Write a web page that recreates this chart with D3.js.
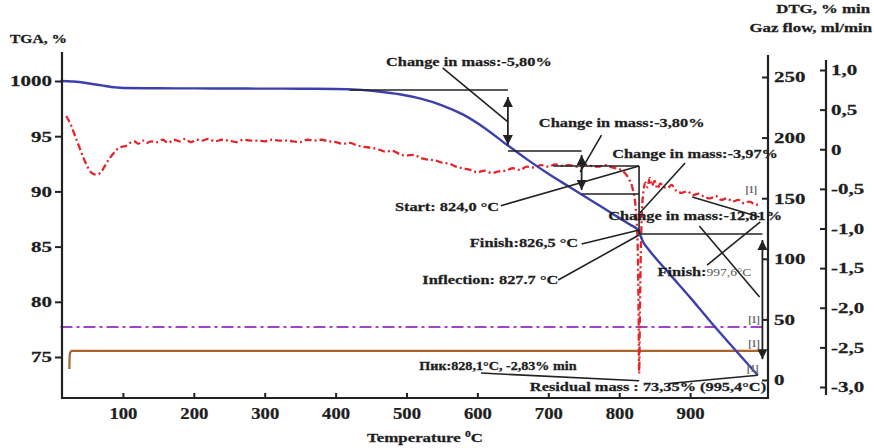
<!DOCTYPE html>
<html>
<head>
<meta charset="utf-8">
<script src="https://cdn.jsdelivr.net/npm/d3@7"></script>
<style>
  body { margin: 0; background: #fff; }
  svg text { font-family: "Liberation Serif", "Times New Roman", serif; font-weight: bold; fill: #1e1e1e; stroke: #1e1e1e; stroke-width: 0.25px; }
</style>
</head>
<body>
<svg width="874" height="448"></svg>
<script>
// ticks
var tempTicks = [100, 200, 300, 400, 500, 600, 700, 800, 900];
var tgaTicks = [75, 80, 85, 90, 95, 100];
var tgaTickLabels = ["75", "80", "85", "90", "95", "1000"];
var gasTicks = [0, 50, 100, 150, 200, 250];
var dtgTicks = [1, 0.5, 0, -0.5, -1, -1.5, -2, -2.5, -3];
var dtgTickLabels = ["1,0", "0,5", "0", "-0,5", "-1,0", "-1,5", "-2,0", "-2,5", "-3,0"];

// TGA, %
var tgaTemp = [12, 30, 50, 70, 90, 100, 150, 200, 250, 300, 350, 400, 430, 460, 490, 520, 550, 580, 610, 640, 670, 700, 730, 760, 790, 815, 826, 828, 830, 834, 842, 870, 900, 930, 960, 995.4];
var tgaMass = [100, 99.95, 99.8, 99.6, 99.42, 99.37, 99.34, 99.33, 99.32, 99.31, 99.3, 99.28, 99.22, 99.05, 98.8, 98.4, 97.8, 96.95, 95.75, 94.3, 92.9, 91.6, 90.4, 89.2, 88.0, 87.0, 86.55, 86.4, 86.0, 85.4, 84.7, 82.6, 80.4, 78.1, 75.9, 73.35];

// DTG, % min
var dtgTemp = [20, 26, 32, 38, 44, 50, 56, 62, 68, 74, 80, 86, 92, 98, 104, 110, 116, 122, 128, 134, 140, 148, 156, 164, 172, 180, 188, 196, 204, 212, 220, 230, 240, 250, 260, 270, 280, 290, 300, 310, 320, 330, 340, 350, 360, 370, 380, 390, 400, 410, 420, 430, 440, 450, 460, 470, 480, 490, 500, 510, 520, 530, 540, 550, 560, 570, 580, 590, 600, 610, 620, 630, 640, 650, 660, 670, 680, 690, 700, 710, 720, 730, 740, 750, 760, 770, 780, 790, 800, 808, 814, 819, 823, 826, 827.3, 828.1, 829.2, 830.5, 832, 834, 837, 840, 843, 846, 850, 854, 858, 862, 868, 874, 880, 888, 896, 904, 912, 920, 928, 936, 944, 952, 960, 968, 976, 984, 992, 998];
var dtgRate = [0.42, 0.32, 0.18, 0.04, -0.10, -0.22, -0.30, -0.32, -0.30, -0.22, -0.13, -0.06, 0.00, 0.03, 0.04, 0.08, 0.10, 0.07, 0.11, 0.08, 0.10, 0.09, 0.12, 0.08, 0.12, 0.10, 0.13, 0.09, 0.12, 0.11, 0.13, 0.10, 0.12, 0.11, 0.09, 0.12, 0.11, 0.11, 0.10, 0.12, 0.11, 0.11, 0.10, 0.09, 0.12, 0.11, 0.12, 0.10, 0.09, 0.07, 0.08, 0.05, 0.03, 0.02, 0.00, -0.03, -0.02, -0.06, -0.08, -0.07, -0.11, -0.13, -0.14, -0.17, -0.18, -0.22, -0.24, -0.26, -0.29, -0.27, -0.30, -0.28, -0.27, -0.24, -0.26, -0.22, -0.23, -0.20, -0.22, -0.19, -0.21, -0.20, -0.22, -0.19, -0.21, -0.22, -0.20, -0.23, -0.25, -0.30, -0.38, -0.50, -0.72, -1.20, -2.00, -2.83, -2.10, -1.30, -0.80, -0.55, -0.42, -0.48, -0.36, -0.46, -0.40, -0.50, -0.43, -0.47, -0.49, -0.45, -0.52, -0.55, -0.53, -0.58, -0.56, -0.60, -0.62, -0.59, -0.64, -0.62, -0.66, -0.64, -0.68, -0.66, -0.70, -0.69];

// Gaz flow, ml/min
var flowTemp = [24.5, 24.8, 25.6, 28, 1002];
var flowBrown = [9, 18, 22.5, 24, 24];
var flowTemp2 = [12, 1002];
var flowPurple = [43.7, 43.7];

// annotations in (temperature, TGA %) units
var annLines = [
  [420, 99.18, 643, 99.18], [551, 101.18, 643, 96.29], [643, 93.66, 747, 93.66],
  [775, 95.1, 745, 91.76], [707, 92.3, 828, 92.3], [747, 89.76, 828, 89.76], [828, 92.3, 828, 86.14],
  [633, 88.7, 828, 92.3], [893, 92.57, 829, 88.04], [828, 86.14, 1002, 86.14],
  [913, 86.87, 998, 80.43], [924, 83.33, 999, 87.23], [903, 89.49, 998, 87.68],
  [747, 85.24, 828, 86.5], [714, 81.97, 828, 86.05],
  [605, 73.55, 828.1, 72.85], [870, 72.6, 995.4, 73.35]
];
var annArrows = [[643, 98.55, 643, 94.2], [747, 93.3, 747, 90.13], [1002, 85.6, 1002, 74.8]];
var annTexts = [
  ["Change in mass:-5,80%", 588, 101.36, "middle"],
  ["Change in mass:-3,80%", 803.5, 95.83, "middle"],
  ["Change in mass:-3,97%", 907, 93.0, "middle"],
  ["Change in mass:-12,81%", 907, 87.4, "middle"],
  ["Start: 824,0 °C", 630.5, 88.2, "end"],
  ["Finish:826,5 °C", 742, 84.96, "end"],
  ["Inflection: 827.7 °C", 714, 81.6, "end"],
  ["Residual mass : 73,35% (995,4°C)", 674, 71.92, "start"]
];
var markTexts = [[978, 89.9], [982, 78.1], [982, 75.9], [980, 73.6]];

var svg = d3.select("svg");
var x = d3.scaleLinear().domain([0, 1000]).range([52, 761]);
var yTga = d3.scaleLinear().domain([75, 100]).range([357, 81]);
var yGas = d3.scaleLinear().domain([0, 250]).range([380, 77]);
var yDtg = d3.scaleLinear().domain([-3, 1]).range([387, 70]);
var left = 62, right = 768, bottom = 398, outer = 826;
var ink = "#222";

function stretch(g, sx) {
  g.selectAll(".tick text").each(function() {
    var t = d3.select(this);
    t.attr("x", (+t.attr("x") || 0) / sx).attr("transform", "scale(" + sx + ",1)");
  });
}
function label(s, px, py, size, anchor, sx) {
  return svg.append("text")
    .attr("transform", "translate(" + px + "," + py + ") scale(" + sx + ",1)")
    .attr("text-anchor", anchor).style("font-size", size + "px").text(s);
}

// series
svg.append("path").attr("d", d3.line()
    .x(function(d, i) { return x(flowTemp2[i]); }).y(function(d) { return yGas(d); })(flowPurple))
  .attr("fill", "none").attr("stroke", "#9d45c6").attr("stroke-width", 2).attr("stroke-dasharray", "12,4,3,4");
svg.append("path").attr("d", d3.line().curve(d3.curveMonotoneX)
    .x(function(d, i) { return x(flowTemp[i]); }).y(function(d) { return yGas(d); })(flowBrown))
  .attr("fill", "none").attr("stroke", "#a8662c").attr("stroke-width", 2.2);

svg.append("path").attr("d", d3.line().curve(d3.curveMonotoneX)
    .x(function(d, i) { return x(dtgTemp[i]); }).y(function(d) { return yDtg(d); })(dtgRate))
  .attr("fill", "none").attr("stroke", "#e3262b").attr("stroke-width", 2.3).attr("stroke-dasharray", "7,3,2,3");

svg.append("path").attr("d", d3.line().curve(d3.curveMonotoneX)
    .x(function(d, i) { return x(tgaTemp[i]); }).y(function(d) { return yTga(d); })(tgaMass))
  .attr("fill", "none").attr("stroke", "#3c40ad").attr("stroke-width", 2.4);

// annotations
svg.append("defs").append("marker").attr("id", "ah")
  .attr("viewBox", "0 0 10 10").attr("refX", 10).attr("refY", 5)
  .attr("markerWidth", 11).attr("markerHeight", 10).attr("markerUnits", "userSpaceOnUse")
  .attr("orient", "auto-start-reverse")
  .append("path").attr("d", "M0,0L10,5L0,10Z").attr("fill", ink);

svg.selectAll("line.ann").data(annLines).enter().append("line").attr("class", "ann")
  .attr("x1", function(d) { return x(d[0]); }).attr("y1", function(d) { return yTga(d[1]); })
  .attr("x2", function(d) { return x(d[2]); }).attr("y2", function(d) { return yTga(d[3]); })
  .attr("stroke", ink).attr("stroke-width", 1.6);
svg.selectAll("line.arr").data(annArrows).enter().append("line").attr("class", "arr")
  .attr("x1", function(d) { return x(d[0]); }).attr("y1", function(d) { return yTga(d[1]); })
  .attr("x2", function(d) { return x(d[2]); }).attr("y2", function(d) { return yTga(d[3]); })
  .attr("stroke", ink).attr("stroke-width", 1.8)
  .attr("marker-start", "url(#ah)").attr("marker-end", "url(#ah)");

annTexts.forEach(function(d) {
  label(d[0], x(d[1]), yTga(d[2]), 13.3, d[3], 1.23);
});
var fin = label("Finish:", x(854), yTga(82.34), 13.3, "start", 1.23);
fin.append("tspan").style("font-weight", "normal").style("font-size", "11px").style("stroke", "none").style("fill", "#555").text("997,6°C");
label("Пик:828,1°C, -2,83% min", x(518), yTga(73.82), 11.5, "start", 1.23);
markTexts.forEach(function(d) {
  label("[1]", x(d[0]), yTga(d[1]), 10, "start", 1).style("fill", "#666").style("stroke", "none");
});

// axes
var gl = svg.append("g").attr("transform", "translate(" + left + ",0)")
  .call(d3.axisLeft(yTga).tickValues(tgaTicks).tickSize(7).tickPadding(3)
    .tickFormat(function(d, i) { return tgaTickLabels[i]; }));
var gb = svg.append("g").attr("transform", "translate(0," + bottom + ")")
  .call(d3.axisBottom(x).tickValues(tempTicks).tickSize(-5).tickPadding(9));
var gr = svg.append("g").attr("transform", "translate(" + right + ",0)")
  .call(d3.axisRight(yGas).tickValues(gasTicks).tickSize(-6).tickPadding(6));
var go = svg.append("g").attr("transform", "translate(" + outer + ",0)")
  .call(d3.axisRight(yDtg).tickValues(dtgTicks).tickSize(-6).tickPadding(5)
    .tickFormat(function(d, i) { return dtgTickLabels[i]; }));
[gl, gr, go].forEach(function(g) { g.attr("font-size", 15); stretch(g, 1.4); });
gb.attr("font-size", 17); stretch(gb, 1.1);
[gl, gb, gr, go].forEach(function(g) {
  g.attr("color", ink);
  g.select(".domain").remove();
  g.selectAll(".tick line").attr("stroke-width", 2);
});
svg.append("line").attr("x1", left).attr("x2", left).attr("y1", 52).attr("y2", bottom + 1);
svg.append("line").attr("x1", left - 1).attr("x2", right + 1).attr("y1", bottom).attr("y2", bottom);
svg.append("line").attr("x1", right).attr("x2", right).attr("y1", 55).attr("y2", bottom + 1);
svg.append("line").attr("x1", outer).attr("x2", outer).attr("y1", 60).attr("y2", 395);
svg.selectAll("svg > line:not(.ann):not(.arr)").attr("stroke", ink).attr("stroke-width", 2.2);

// titles
label("TGA, %", 10, 43, 11.5, "start", 1.35);
label("DTG, % min", 870, 13, 12, "end", 1.4);
label("Gaz flow, ml/min", 872, 32, 12, "end", 1.4);
var tt = label("Temperature ", 425, 442, 13, "middle", 1.3);
tt.append("tspan").attr("dy", -5).style("font-size", "9px").text("0");
tt.append("tspan").attr("dy", 5).text("C");
</script>
</body>
</html>
